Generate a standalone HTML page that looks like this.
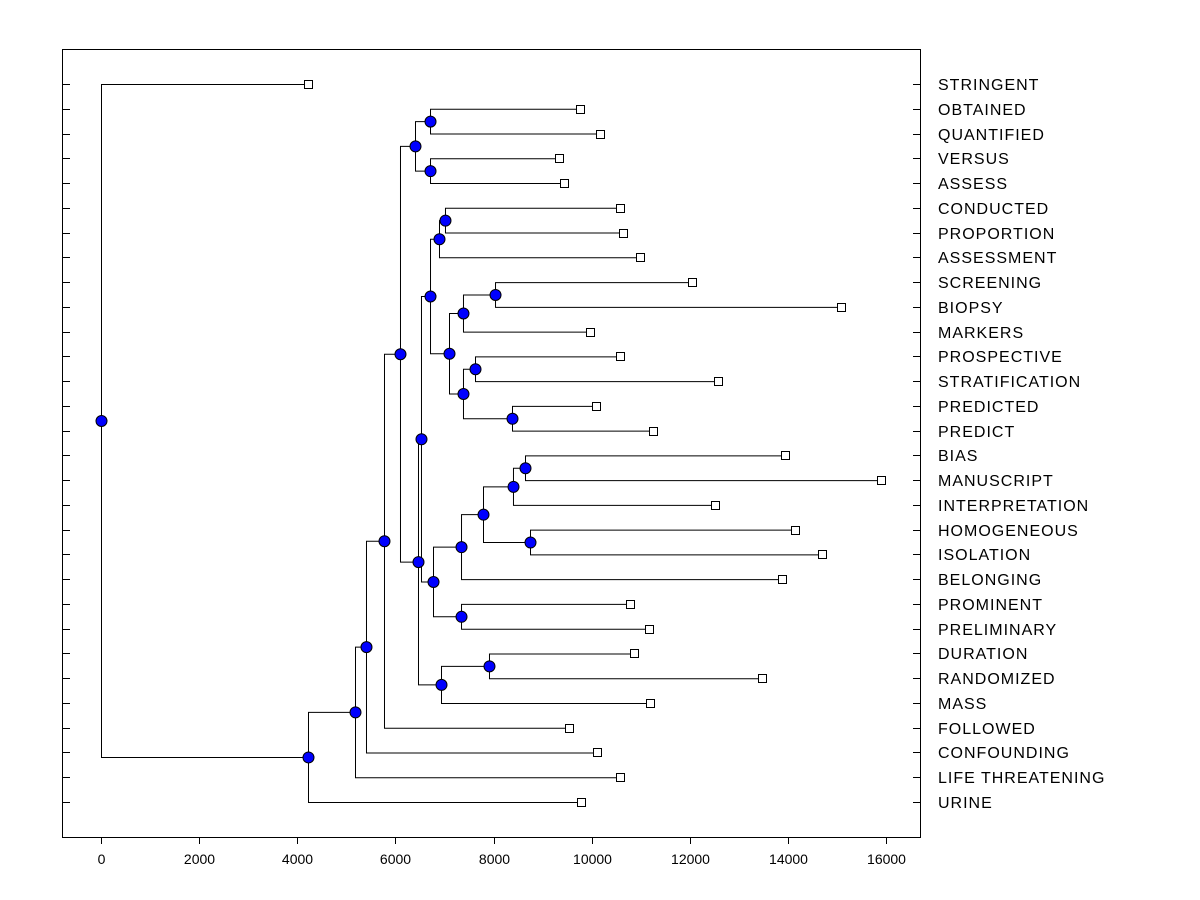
<!DOCTYPE html>
<html><head><meta charset="utf-8"><style>
body{margin:0;background:#fff;}
svg{display:block;font-family:"Liberation Sans",Arial,sans-serif;}
</style></head><body>
<svg id="c" width="1200" height="900"></svg>
<script>
const labels=["STRINGENT","OBTAINED","QUANTIFIED","VERSUS","ASSESS","CONDUCTED","PROPORTION","ASSESSMENT","SCREENING","BIOPSY","MARKERS","PROSPECTIVE","STRATIFICATION","PREDICTED","PREDICT","BIAS","MANUSCRIPT","INTERPRETATION","HOMOGENEOUS","ISOLATION","BELONGING","PROMINENT","PRELIMINARY","DURATION","RANDOMIZED","MASS","FOLLOWED","CONFOUNDING","LIFE THREATENING","URINE"];
const leafValues=[4219,9763,10171,9335,9437,10578,10640,10986,12046,15083,9967,10578,12576,10089,11251,13941,15898,12515,14145,14696,13880,10782,11169,10864,13472,11190,9539,10110,10578,9783];
// tree: [mergeHeight, child, child]; numbers = leaf index
const tree=[0,0,[4219,[5177,[5401,[5768,[6094,
  [6400,[6706,1,2],[6706,3,4]],
  [6461,
    [6522,
      [6706,[6889,[7011,5,6],7],[7093,[7378,[8031,8,9],10],[7378,[7623,11,12],[8377,13,14]]]],
      [6767,[7338,[7786,[8397,[8642,15,16],17],[8744,18,19]],20],[7338,21,22]]],
    [6930,[7908,23,24],25]]],26],27],28],29]];
const xTicks=[0,2000,4000,6000,8000,10000,12000,14000,16000];

const svg=document.getElementById('c');const NS='http://www.w3.org/2000/svg';
function mk(t,a,p){const e=document.createElementNS(NS,t);for(const k in a)e.setAttribute(k,a[k]);(p||svg).appendChild(e);return e;}
const X=v=>101+v*(785/16000);
const Y=i=>84+i*(718/29);
const box=mk('rect',{x:62.5,y:49.5,width:858,height:788,fill:'none',stroke:'#000'});


const gl=mk('g',{stroke:'#000','stroke-width':1,fill:'none'});


const gm=mk('g',{});


function draw(n){
  if(typeof n==='number'){return {y:Y(n),x:X(leafValues[n])};}
  const a=draw(n[1]),b=draw(n[2]);const x=X(n[0]);
  mk('path',{d:`M${a.x} ${a.y+0.5}H${x+0.5}V${b.y+0.5}H${b.x}`},gl);
  const y=(a.y+b.y)/2;
  const c=mk('circle',{cx:x+0.5,cy:y+0.5,r:5.5,fill:'#0000ff',stroke:'#000','stroke-width':1},gm);
  
  
  return {x:x+0.5,y:y};
}
draw(tree);
labels.forEach((l,i)=>{
  const y=Math.round(Y(i));
  const s=mk('rect',{x:Math.round(X(leafValues[i]))-4+0.5,y:y-4+0.5,width:8,height:8,fill:'#fff',stroke:'#000'},gm);
  
  
  mk('path',{d:`M62 ${y+0.5}H70M913 ${y+0.5}H921`,stroke:'#000'});
  const t=mk('text',{x:938,y:y+6,'font-size':16,'letter-spacing':1,fill:'#000'});t.textContent=l;
  
  
});
xTicks.forEach(v=>{
  const x=Math.round(X(v))+0.5;
  mk('path',{d:`M${x} 838V844`,stroke:'#000'});
  const t=mk('text',{x:x,y:864,'font-size':14,'text-anchor':'middle',fill:'#000'});t.textContent=v;
  
  
});
</script>
</body></html>
